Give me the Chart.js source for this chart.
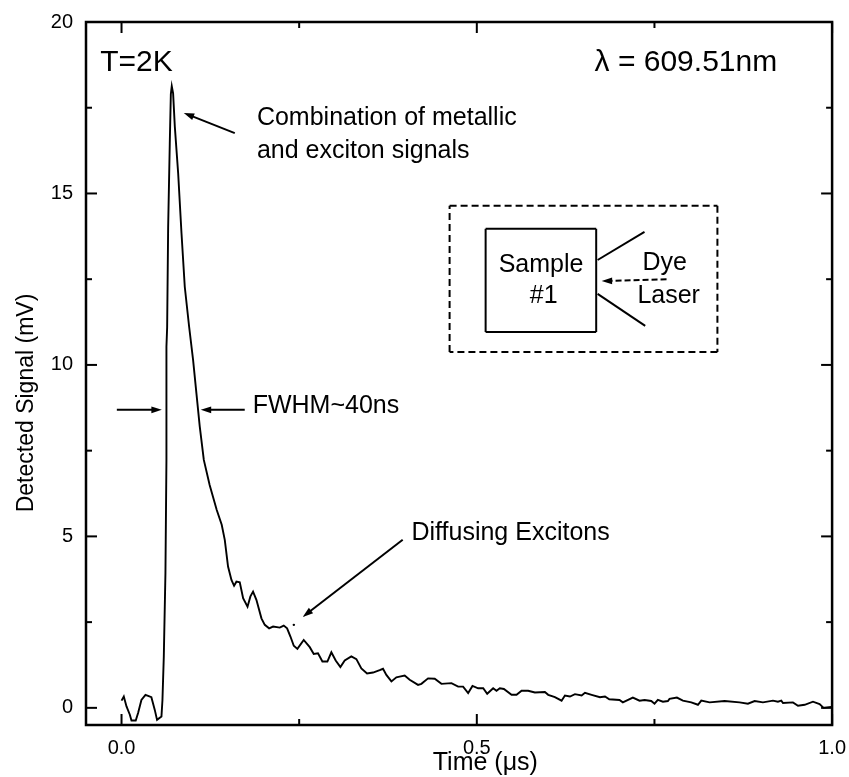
<!DOCTYPE html>
<html>
<head>
<meta charset="utf-8">
<style>
  html, body { margin: 0; padding: 0; background: #fff; }
  #wrap { width: 849px; height: 777px; }
</style>
<script src="https://cdn.jsdelivr.net/npm/chart.js@4/dist/chart.umd.min.js"></script>
</head>
<body>
<div id="wrap"><canvas id="grafico"></canvas></div>
<script>
// time in us and signal in mV
const tempos = [0, .0032, .007, .0117, .014, .02, .0234, .028, .0337, .0374, .042, .0468, .05, .0562, .0576, .0595, .0618, .0632, .0632, .0642, .0656, .0679, .0694, .0707, .0726, .075, .0797, .0844, .089, .0951, .1007, .1054, .1101, .1158, .124, .134, .141, .1453, .1499, .1547, .1584, .1617, .1664, .1711, .1773, .1814, .1851, .1898, .1969, .2016, .2077, .2133, .2227, .2283, .233, .2377, .2424, .2475, .2564, .2649, .2705, .2765, .2827, .2897, .2953, .3014, .308, .3141, .3234, .3305, .3375, .3455, .354, .3633, .368, .3727, .3798, .3868,
  .3914, .3985, .4055, .4173, .422, .4314, .4408, .4502, .4643, .4737, .4807, .4878, .4939, .5019, .509, .5146, .523, .5277, .5324, .5381, .5489, .5559, .563, .5723, .5817, .5958, .6005, .6099, .6193, .624, .6311, .6381, .6475, .6522, .6616, .6733, .6804, .6864,
  .7008, .7055, .7196, .729, .7361, .7455, .7501, .7548, .7619, .7689, .7712, .7816, .79, .8018, .8112, .8159, .8276, .8487, .8698, .8815, .891, .9027, .9168, .9238, .9285, .9309, .9449, .952, .9614, .9731, .9824, .988, .9988];
const sinal = [.21, .33, .04, -.2, -.37, -.37, -.14, .23, .38, .35, .31, -.06, -.35, -.25, .23, 1.5, 3.93, 7.23, 10.53, 11.1, 14, 16.46, 17.9, 18.13, 17.92, 16.95, 15.59, 13.84, 12.28, 11.12, 10.15, 9.17, 8.2, 7.23, 6.5, 5.77, 5.34, 4.9, 4.12, 3.73, 3.56, 3.68, 3.66, 3.2, 2.95, 3.25, 3.39, 3.15, 2.61, 2.42, 2.32, 2.37, 2.34, 2.4, 2.32, 2.08, 1.81, 1.72, 1.98, 1.77, 1.57, 1.59, 1.35, 1.35, 1.62, 1.38, 1.19, 1.38, 1.5, 1.42, 1.15, 1, 1.03, 1.1, 1.14, .96, .77, .89,
  .91, .94, .82, .67, .7, .86, .85, .7, .72, .62, .62, .43, .64, .57, .57, .41, .57, .5, .57, .55, .38, .38, .5, .5, .45, .46, .38, .31, .21, .36, .33, .4, .36, .44, .38, .31, .33, .25,
  .23, .16, .3, .21, .23, .2, .12, .23, .18, .2, .26, .3, .21, .16, .09, .21, .16, .2, .16, .12, .2, .16, .21, .18, .21, .14, .16, .06, .09, .18, .11, 0, .03];
// isolated dot just left of the arrow tip
const pontoT = [.2425];
const pontoS = [2.42];

const xTicks = [0, 0.5, 1];
const xMinor = [0.25, 0.75];
const yTicks = [0, 5, 10, 15, 20];
const yMinor = [2.5, 7.5, 12.5, 17.5];

// notes and sketch, all in data units so they follow the scales
const textos = [
  { t: 'T=2K', x: -0.03, y: 18.8, size: 30 },
  { t: 'λ = 609.51nm', x: 0.6657, y: 18.8, size: 30 },
  { t: 'Combination of metallic', x: 0.1905, y: 17.2, size: 25 },
  { t: 'and exciton signals', x: 0.1905, y: 16.24, size: 25 },
  { t: 'FWHM~40ns', x: 0.1846, y: 8.8, size: 25 },
  { t: 'Diffusing Excitons', x: 0.408, y: 5.1, size: 25 },
  { t: 'Sample', x: 0.5307, y: 12.9, size: 25 },
  { t: '#1', x: 0.5746, y: 12.02, size: 25 },
  { t: 'Dye', x: 0.733, y: 12.98, size: 25 },
  { t: 'Laser', x: 0.726, y: 12.02, size: 25 },
  { t: 'Time (μs)', x: 0.438, y: -1.6, size: 25 }
];
const tituloY = { t: 'Detected Signal (mV)', x: -0.1335, y: 8.89, size: 23 };
const setas = [
  [0.1594, 16.76, 0.0876, 17.35],
  [-0.0066, 8.69, 0.0567, 8.69],
  [0.1734, 8.69, 0.1115, 8.69],
  [0.3957, 4.9, 0.255, 2.65]
];
const linhas = [
  [0.5124, 13.97, 0.668, 13.97], [0.668, 13.97, 0.668, 10.96], [0.668, 10.96, 0.5124, 10.96], [0.5124, 10.96, 0.5124, 13.97],
  [0.67, 13.06, 0.736, 13.88], [0.67, 12.07, 0.737, 11.14]
];
const tracejadas = [
  [0.4617, 14.64, 0.8386, 14.64], [0.8386, 14.64, 0.8386, 10.38], [0.8386, 10.38, 0.4617, 10.38], [0.4617, 10.38, 0.4617, 14.64]
];
const setaLaser = [0.767, 12.5, 0.6757, 12.45];

const marcacoes = {
  id: 'marcacoes',
  afterDraw(chart) {
    const { ctx, scales: { x, y }, chartArea: a } = chart;
    const px = v => x.getPixelForValue(v);
    const py = v => y.getPixelForValue(v);
    ctx.save();
    ctx.strokeStyle = '#000';
    ctx.fillStyle = '#000';

    // moldura e ticks para dentro
    ctx.lineWidth = 2.5;
    ctx.strokeRect(a.left, a.top, a.right - a.left, a.bottom - a.top);
    ctx.lineWidth = 2;
    const tick = (x0, y0, x1, y1) => { ctx.beginPath(); ctx.moveTo(x0, y0); ctx.lineTo(x1, y1); ctx.stroke(); };
    xTicks.forEach(v => { tick(px(v), a.bottom, px(v), a.bottom - 11); tick(px(v), a.top, px(v), a.top + 11); });
    xMinor.forEach(v => { tick(px(v), a.bottom, px(v), a.bottom - 6); tick(px(v), a.top, px(v), a.top + 6); });
    yTicks.forEach(v => { tick(a.left, py(v), a.left + 11, py(v)); tick(a.right, py(v), a.right - 11, py(v)); });
    yMinor.forEach(v => { tick(a.left, py(v), a.left + 6, py(v)); tick(a.right, py(v), a.right - 6, py(v)); });

    const seta = s => {
      const [x0, y0, x1, y1] = [px(s[0]), py(s[1]), px(s[2]), py(s[3])];
      const ang = Math.atan2(y1 - y0, x1 - x0);
      tick(x0, y0, x1 - 6 * Math.cos(ang), y1 - 6 * Math.sin(ang));
      ctx.beginPath();
      ctx.moveTo(x1, y1);
      ctx.lineTo(x1 - 11 * Math.cos(ang - 0.32), y1 - 11 * Math.sin(ang - 0.32));
      ctx.lineTo(x1 - 11 * Math.cos(ang + 0.32), y1 - 11 * Math.sin(ang + 0.32));
      ctx.closePath();
      ctx.fill();
    };
    setas.forEach(seta);

    linhas.forEach(s => tick(px(s[0]), py(s[1]), px(s[2]), py(s[3])));
    ctx.setLineDash([7, 4]);
    tracejadas.forEach(s => tick(px(s[0]), py(s[1]), px(s[2]), py(s[3])));
    ctx.setLineDash([6, 3]);
    tick(px(setaLaser[0]), py(setaLaser[1]), px(setaLaser[2]) + 8, py(setaLaser[3]));
    ctx.setLineDash([]);
    seta([setaLaser[2] + 0.012, setaLaser[3], setaLaser[2], setaLaser[3]]);

    ctx.textBaseline = 'middle';
    ctx.textAlign = 'left';
    textos.forEach(n => {
      ctx.font = n.size + 'px "Liberation Sans"';
      ctx.fillText(n.t, px(n.x), py(n.y));
    });

    ctx.translate(px(tituloY.x), py(tituloY.y));
    ctx.rotate(-Math.PI / 2);
    ctx.textAlign = 'center';
    ctx.font = tituloY.size + 'px "Liberation Sans"';
    ctx.fillText(tituloY.t, 0, 0);
    ctx.restore();
  }
};

new Chart(document.getElementById('grafico'), {
  type: 'line',
  data: {
    datasets: [{
      data: tempos.map((t, i) => ({ x: t, y: sinal[i] })),
      borderColor: '#000',
      borderWidth: 1.9,
      pointRadius: 0,
      tension: 0
    }, {
      data: pontoT.map((t, i) => ({ x: t, y: pontoS[i] })),
      showLine: false,
      pointRadius: 1.2,
      pointBackgroundColor: '#000',
      pointBorderWidth: 0
    }]
  },
  plugins: [marcacoes],
  options: {
    responsive: true,
    maintainAspectRatio: false,
    animation: false,
    layout: { padding: { top: 22, right: 16, left: 0, bottom: 0 } },
    plugins: { legend: { display: false }, tooltip: { enabled: false } },
    scales: {
      x: {
        type: 'linear',
        min: -0.05,
        max: 1,
        grid: { display: false },
        border: { display: false },
        afterBuildTicks: s => { s.ticks = xTicks.map(v => ({ value: v })); },
        afterFit: s => { s.height = 52; },
        ticks: {
          color: '#000',
          maxRotation: 0,
          padding: 3,
          font: { family: 'Liberation Sans', size: 20 },
          callback: v => v.toFixed(1)
        }
      },
      y: {
        min: -0.5,
        max: 20,
        grid: { display: false },
        border: { display: false },
        afterBuildTicks: s => { s.ticks = yTicks.map(v => ({ value: v })); },
        afterFit: s => { s.width = 86; },
        ticks: {
          color: '#000',
          padding: 5,
          font: { family: 'Liberation Sans', size: 20 },
          callback: v => String(v)
        }
      }
    }
  }
});
</script>
</body>
</html>
